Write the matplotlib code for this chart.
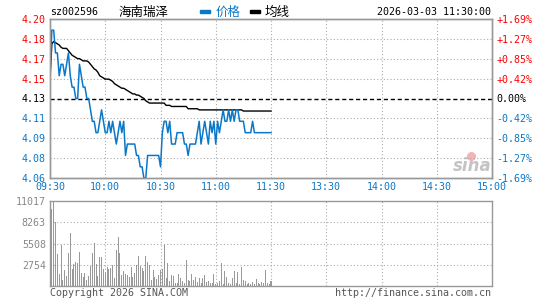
import numpy as np
import matplotlib
matplotlib.use("Agg")
import matplotlib.pyplot as plt

# minute data for the morning session (09:30 .. 11:30)
price = [4.15, 4.19, 4.19, 4.17, 4.17, 4.15, 4.16, 4.16, 4.15, 4.16,
         4.17, 4.15, 4.14, 4.14, 4.13, 4.13, 4.16, 4.15, 4.14, 4.14,
         4.13, 4.13, 4.12, 4.11, 4.11, 4.10, 4.10, 4.11, 4.12, 4.11,
         4.10, 4.10, 4.11, 4.10, 4.11, 4.10, 4.09, 4.10, 4.11, 4.10,
         4.11, 4.08, 4.09, 4.09, 4.09, 4.09, 4.09, 4.08, 4.08, 4.07,
         4.07, 4.06, 4.06, 4.08, 4.08, 4.08, 4.08, 4.08, 4.08, 4.08,
         4.07, 4.10, 4.11, 4.11, 4.10, 4.11, 4.09, 4.09, 4.09, 4.10,
         4.10, 4.10, 4.10, 4.09, 4.09, 4.08, 4.09, 4.09, 4.09, 4.09,
         4.10, 4.11, 4.09, 4.10, 4.11, 4.10, 4.09, 4.11, 4.10, 4.11,
         4.09, 4.11, 4.10, 4.11, 4.12, 4.11, 4.11, 4.12, 4.11, 4.12,
         4.11, 4.12, 4.12, 4.11, 4.11, 4.11, 4.10, 4.10, 4.10, 4.10,
         4.11, 4.10, 4.10, 4.10, 4.10, 4.10, 4.10, 4.10, 4.10, 4.10, 4.10]

avg = [4.146, 4.178, 4.180, 4.179, 4.178, 4.177, 4.175, 4.174, 4.174, 4.174,
       4.172, 4.170, 4.168, 4.167, 4.166, 4.165, 4.165, 4.164, 4.163, 4.163,
       4.163, 4.162, 4.160, 4.158, 4.156, 4.155, 4.153, 4.150, 4.149, 4.148,
       4.147, 4.147, 4.147, 4.146, 4.145, 4.143, 4.142, 4.141, 4.140, 4.139,
       4.139, 4.138, 4.137, 4.136, 4.135, 4.134, 4.134, 4.133, 4.133, 4.132,
       4.131, 4.130, 4.128, 4.127, 4.126, 4.126, 4.126, 4.126, 4.126, 4.126,
       4.126, 4.126, 4.126, 4.124, 4.124, 4.124, 4.123, 4.123, 4.123, 4.123,
       4.123, 4.123, 4.123, 4.123, 4.123, 4.121, 4.121, 4.121, 4.121, 4.121,
       4.121, 4.120, 4.120, 4.120, 4.120, 4.120, 4.120, 4.120, 4.120, 4.120,
       4.120, 4.120, 4.120, 4.120, 4.120, 4.120, 4.120, 4.120, 4.120, 4.120,
       4.120, 4.120, 4.120, 4.120, 4.120, 4.119, 4.119, 4.119, 4.119, 4.119,
       4.119, 4.119, 4.119, 4.119, 4.119, 4.119, 4.119, 4.119, 4.119, 4.119, 4.119]

volume = [1130, 10000, 11017, 8300, 4140, 1500, 5350, 700, 2090, 1300,
          4260, 6870, 2170, 2830, 3080, 2950, 4390, 1670, 1130, 1670,
          780, 1300, 2610, 4260, 5560, 2830, 1300, 3740, 3740, 2170,
          1670, 2440, 2170, 2300, 2740, 960, 4690, 6350, 4260, 1390,
          1960, 1520,
          1435, 1130, 2435, 1130, 1650, 2740, 3830, 2520, 2305, 1870,
          3830, 3090, 2740, 780, 2090, 1130, 910, 1350, 2090, 2175,
          5350, 1000, 2960, 565, 1350, 1220, 350, 350, 1520, 1000,
          650, 350, 3390, 780, 650, 1520, 780, 1130, 480, 1000,
          350, 1000,
          1435, 480, 650, 350, 350, 1520, 220, 350, 650, 2960,
          220, 1960, 1130, 350, 220, 1000, 1960, 350, 1780, 220,
          2435, 780, 650, 220, 350, 220, 480, 220, 870, 350,
          220, 480, 350, 2090, 350, 220, 565]

time_labels = ["09:30", "10:00", "10:30", "11:00", "11:30", "13:30", "14:00", "14:30", "15:00"]
price_labels = ["4.06", "4.08", "4.09", "4.11", "4.13", "4.15", "4.17", "4.18", "4.20"]
pct_labels = ["-1.69%", "-1.27%", "-0.85%", "-0.42%", "0.00%", "+0.42%", "+0.85%", "+1.27%", "+1.69%"]
vol_labels = ["2754", "5508", "8263", "11017"]

base = 4.13
blue = "#0a78c8"
red = "#ff0000"
gray = "#999999"
W, H = 545, 300

def fx(x):
    return x / W

def fy(y):
    return 1 - y / H

mono = "DejaVu Sans Mono"
cjk = ["Noto Sans CJK SC", "DejaVu Sans"]
fs = 7.2

fig = plt.figure(figsize=(5.45, 3.0), dpi=100)
ax = fig.add_axes([fx(50), fy(178), fx(442), 159 / H])
axv = fig.add_axes([fx(50), fy(285.7), fx(442), 84.4 / H])

minutes = np.arange(len(price))
lo, hi = base * (1 - 0.0169), base * (1 + 0.0169)
yt = np.linspace(lo, hi, 9)

# price panel
for y in yt[1:-1]:
    if abs(y - base) < 1e-6:
        ax.axhline(y, color="black", lw=1.0, ls=(0, (3, 2)), zorder=1)
    else:
        ax.axhline(y, color="#aaaaaa", lw=0.8, ls=(0, (1, 2)), zorder=1)
for t in range(30, 240, 30):
    ax.axvline(t, color="#aaaaaa", lw=0.8, ls=(0, (1, 2)), zorder=1)

ax.plot(minutes, price, color=blue, lw=1.1, zorder=3)
ax.plot(minutes, avg, color="black", lw=1.0, zorder=2)

ax.set_xlim(0, 240)
ax.set_ylim(lo, hi)
ax.set_yticks(yt)
ax.set_yticklabels(price_labels, family=mono, fontsize=fs)
ax.set_xticks(range(0, 241, 30))
ax.set_xticklabels(time_labels, family=mono, fontsize=fs, color=blue)
ax.tick_params(length=0, pad=3)
colors = [blue] * 4 + ["black"] + [red] * 4
for lab, c in zip(ax.get_yticklabels(), colors):
    lab.set_color(c)

ax2 = ax.twinx()
ax2.set_ylim(lo, hi)
ax2.set_yticks(yt)
ax2.set_yticklabels(pct_labels, family=mono, fontsize=fs)
ax2.tick_params(length=0, pad=3)
for lab, c in zip(ax2.get_yticklabels(), colors):
    lab.set_color(c)

for a in (ax, ax2, axv):
    for s in a.spines.values():
        s.set_color(gray)
        s.set_linewidth(1.0)

# watermark
ax.text(0.955, 0.075, "sina", transform=ax.transAxes, ha="center", va="center",
        fontsize=12, style="italic", weight="bold", color="#c4c4c4", zorder=0)
ax.scatter([0.953], [0.14], transform=ax.transAxes, s=30, color="#f4b4b4", marker="o", zorder=0)

# volume panel
vt = [2754, 5508, 8263, 11017]
for v in vt[:-1]:
    axv.axhline(v, color="#aaaaaa", lw=0.8, ls=(0, (1, 2)), zorder=1)
for t in range(30, 240, 30):
    axv.axvline(t, color="#aaaaaa", lw=0.8, ls=(0, (1, 2)), zorder=1)
axv.bar(minutes, volume, width=0.55, color=gray, linewidth=0, zorder=2)
axv.set_xlim(0, 240)
axv.set_ylim(0, 11017)
axv.set_yticks(vt)
axv.set_yticklabels(vol_labels, family=mono, fontsize=fs, color="#888888")
axv.set_xticks([])
axv.tick_params(length=0, pad=3)

# header
fig.text(fx(50), fy(12), "sz002596", family=mono, fontsize=fs, va="center", ha="left")
fig.text(fx(144), fy(12), "海南瑞泽", family=cjk, fontsize=9, va="center", ha="center")
fig.patches.append(plt.Rectangle((fx(200), fy(12.5)), fx(10), 2.2 / H, transform=fig.transFigure,
                                 color=blue, figure=fig))
fig.text(fx(216), fy(12), "价格", family=cjk, fontsize=9, va="center", ha="left", color=blue)
fig.patches.append(plt.Rectangle((fx(250), fy(12.5)), fx(10), 2.2 / H, transform=fig.transFigure,
                                 color="black", figure=fig))
fig.text(fx(265), fy(12), "均线", family=cjk, fontsize=9, va="center", ha="left")
fig.text(fx(491), fy(12), "2026-03-03 11:30:00", family=mono, fontsize=fs, va="center", ha="right")

# footer
fig.text(fx(50), fy(293), "Copyright 2026 SINA.COM", family=mono, fontsize=fs, va="center",
         ha="left", color="#555555")
fig.text(fx(491), fy(293), "http://finance.sina.com.cn", family=mono, fontsize=fs, va="center",
         ha="right", color="#555555")

fig.savefig("out.png", dpi=100, facecolor="white")
